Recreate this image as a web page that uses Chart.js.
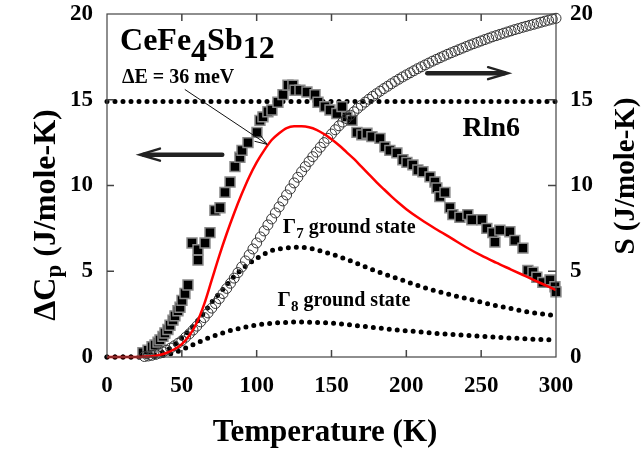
<!DOCTYPE html>
<html>
<head>
<meta charset="utf-8">
<script src="https://cdn.jsdelivr.net/npm/chart.js@4.4.0/dist/chart.umd.min.js"></script>
<style>
  body { margin: 0; background: #fff; }
</style>
</head>
<body>
<canvas id="myChart" width="642" height="455"></canvas>
<script>
// ---- data ----
// measured delta Cp (black squares), J/mole-K
const cpT = [24.0, 27.4, 30.1, 32.1, 34.1, 35.4, 37.4, 38.7, 40.7, 42.1, 44.1, 45.4, 47.4, 48.8, 50.1, 52.1, 54.1,
  56.8, 60.8, 60.8, 65.5, 68.8, 72.1, 75.5, 78.8, 82.2, 85.5, 88.8, 90.2, 94.2, 100.2, 102.2, 104.2, 107.5, 110.2,
  114.2, 117.6, 120.9, 124.2, 125.6, 128.9, 133.6, 139.0, 141.0, 145.6, 149.0, 153.6, 157.0, 160.3, 163.7, 167.0,
  170.3, 173.7, 177.0, 182.4, 185.7, 189.0, 193.7, 197.7, 200.4, 204.4, 207.7, 211.1, 215.8, 219.1, 220.4, 222.4,
  225.8, 229.1, 231.1, 235.8, 241.1, 243.8, 250.5, 253.8, 257.8, 259.2, 262.5, 269.2, 272.5, 277.9, 281.2, 284.6,
  287.2, 291.2, 296.0, 299.3, 300.0];
const cpVal = [0.25, 0.4, 0.6, 0.7, 0.87, 1.0, 1.2, 1.4, 1.6, 1.85, 2.15, 2.4, 2.7, 2.9, 3.3, 3.7, 4.2,
  6.65, 5.65, 6.25, 6.65, 7.25, 8.55, 8.7, 9.6, 10.2, 11.1, 11.65, 12.05, 12.5, 13.1, 13.8, 14.0, 14.3, 14.4,
  14.85, 15.3, 15.85, 15.85, 15.55, 15.55, 15.45, 15.3, 14.85, 14.6, 14.4, 14.2, 14.6, 14.0, 13.8, 13.1,
  12.95, 13.05, 12.85, 12.75, 12.25, 12.05, 11.9, 11.5, 11.35, 11.2, 10.9, 10.8, 10.5, 10.2, 9.85, 9.35,
  9.6, 8.7, 8.3, 8.15, 8.3, 8.0, 8.0, 7.5, 7.25, 6.7, 7.4, 7.3, 6.8, 6.35, 5.05, 4.95,
  4.65, 4.35, 4.5, 4.1, 3.8];

// magnetic entropy (open circles, right axis), J/mole-K
const sT = [25, 27.5, 30, 32.5, 35, 37.5, 40, 42.5, 45, 47.5, 50, 52.5, 55, 57.5, 60, 62.5, 65, 67.5, 70, 72.5,
  75, 77.5, 80, 82.5, 85, 87.5, 90, 92.5, 95, 97.5, 100, 102.5, 105, 107.5, 110, 112.5, 115, 117.5, 120, 122.5,
  125, 127.5, 130, 132.5, 135, 137.5, 140, 142.5, 145, 147.5, 150, 152.5, 155, 157.5, 160, 162.5, 165, 167.5, 170, 172.5,
  175, 177.5, 180, 182.5, 185, 187.5, 190, 192.5, 195, 197.5, 200, 202.5, 205, 207.5, 210, 212.5, 215, 217.5, 220, 222.5,
  225, 227.5, 230, 232.5, 235, 237.5, 240, 242.5, 245, 247.5, 250, 252.5, 255, 257.5, 260, 262.5, 265, 267.5, 270, 272.5,
  275, 277.5, 280, 282.5, 285, 287.5, 290, 292.5, 295, 297.5, 300];
const sVal = [0.03, 0.06, 0.1, 0.15, 0.22, 0.3, 0.4, 0.52, 0.65, 0.8, 0.95, 1.15, 1.35, 1.57, 1.8, 2.05, 2.3, 2.57, 2.85, 3.12,
  3.4, 3.7, 4.0, 4.3, 4.6, 4.92, 5.25, 5.6, 5.95, 6.3, 6.65, 7.0, 7.35, 7.7, 8.05, 8.4, 8.75, 9.1, 9.45, 9.8,
  10.15, 10.48, 10.8, 11.1, 11.4, 11.68, 11.95, 12.23, 12.5, 12.75, 13.0, 13.25, 13.48, 13.7, 13.9, 14.1, 14.3, 14.5, 14.68, 14.86,
  15.03, 15.2, 15.35, 15.5, 15.65, 15.79, 15.93, 16.07, 16.2, 16.33, 16.45, 16.57, 16.69, 16.81, 16.92, 17.03, 17.14, 17.25, 17.35, 17.45,
  17.55, 17.65, 17.74, 17.83, 17.92, 18.01, 18.1, 18.19, 18.27, 18.35, 18.43, 18.51, 18.59, 18.67, 18.74, 18.81, 18.88, 18.95, 19.02, 19.09,
  19.15, 19.22, 19.28, 19.34, 19.4, 19.46, 19.52, 19.58, 19.64, 19.7, 19.75];

// Schottky fit, dE = 36 meV (red line)
const fitT = [0, 10, 20, 25, 30, 35, 40, 45, 50, 55, 60, 65, 70, 75, 80, 85, 90, 95, 100, 105, 110, 115, 120, 125,
  130, 135, 140, 145, 150, 155, 160, 165, 170, 175, 180, 185, 190, 195, 200, 210, 220, 230, 240, 250, 260, 270, 280, 290, 300];
const fitVal = [0, 0, 0, 0.02, 0.05, 0.12, 0.25, 0.45, 0.75, 1.25, 2.0, 3.1, 4.5, 5.9, 7.2, 8.4, 9.5, 10.5, 11.35, 12.05, 12.65, 13.05, 13.35, 13.45,
  13.45, 13.4, 13.25, 13.0, 12.7, 12.35, 11.95, 11.55, 11.1, 10.65, 10.2, 9.78, 9.37, 8.98, 8.62, 8.0, 7.45, 6.93, 6.4, 5.92, 5.5, 5.1, 4.7, 4.3, 3.9];

// Gamma7 ground state (dotted)
const g7T = [0, 10, 20, 30, 35, 40, 45, 50, 55, 60, 65, 70, 75, 80, 85, 90, 95, 100, 105, 110, 115, 120, 125, 130, 135, 140,
  150, 160, 170, 180, 190, 200, 210, 220, 230, 240, 250, 260, 270, 280, 290, 300];
const g7Val = [0, 0, 0, 0.05, 0.2, 0.4, 0.7, 1.1, 1.55, 2.05, 2.6, 3.2, 3.7, 4.2, 4.7, 5.1, 5.45, 5.75, 6.0, 6.2, 6.3, 6.35, 6.4, 6.4, 6.35, 6.25,
  6.0, 5.7, 5.35, 5.0, 4.7, 4.4, 4.1, 3.85, 3.62, 3.42, 3.2, 3.0, 2.82, 2.65, 2.52, 2.42];

// Gamma8 ground state (dotted)
const g8T = [0, 10, 20, 30, 35, 40, 45, 50, 55, 60, 70, 80, 90, 100, 110, 120, 130, 140, 150, 160, 170, 180, 190, 200,
  220, 240, 260, 280, 300];
const g8Val = [0, 0, 0, 0.02, 0.06, 0.13, 0.25, 0.42, 0.62, 0.82, 1.18, 1.48, 1.7, 1.87, 1.97, 2.02, 2.04, 2.02, 1.98, 1.9, 1.8, 1.7, 1.61, 1.53,
  1.38, 1.26, 1.15, 1.06, 0.98];

// R ln6 limit
const rlnT = [0, 300];
const rlnVal = [14.9, 14.9];

const xTicks = [0, 50, 100, 150, 200, 250, 300];
const yTicks = [0, 5, 10, 15, 20];

const FONT = "'Liberation Serif', 'Times New Roman', serif";

function pts(xs, ys) {
  return xs.map((x, i) => ({ x: x, y: ys[i] }));
}

// draw a row of text pieces, each {t, size, dy}
function runs(ctx, x, y, parts) {
  parts.forEach(p => {
    ctx.font = 'bold ' + p.size + 'px ' + FONT;
    ctx.fillText(p.t, x, y + (p.dy || 0));
    x += ctx.measureText(p.t).width;
  });
}
function runsWidth(ctx, parts) {
  let w = 0;
  parts.forEach(p => {
    ctx.font = 'bold ' + p.size + 'px ' + FONT;
    w += ctx.measureText(p.t).width;
  });
  return w;
}

function bigArrow(ctx, x1, x2, y) {
  // shaft from x1 to x2, head at x2
  const dir = x2 > x1 ? 1 : -1;
  ctx.lineWidth = 4.5;
  ctx.lineCap = 'round';
  ctx.beginPath();
  ctx.moveTo(x1, y);
  ctx.lineTo(x2 - dir * 4, y);
  ctx.stroke();
  ctx.lineWidth = 2.5;
  ctx.lineJoin = 'miter';
  ctx.beginPath();
  ctx.moveTo(x2 - dir * 20, y - 6);
  ctx.lineTo(x2, y);
  ctx.lineTo(x2 - dir * 20, y + 6);
  ctx.stroke();
}

const decor = {
  id: 'decor',
  afterDatasetsDraw(chart) {
    const ctx = chart.ctx;
    const a = chart.chartArea;
    const sx = chart.scales.x, sy = chart.scales.y;
    const px = t => sx.getPixelForValue(t);
    const py = v => sy.getPixelForValue(v);
    ctx.save();

    // frame
    ctx.strokeStyle = '#444';
    ctx.lineWidth = 1.2;
    ctx.strokeRect(a.left, a.top, a.right - a.left, a.bottom - a.top);

    // inward ticks
    ctx.lineWidth = 1.5;
    ctx.beginPath();
    xTicks.slice(1, -1).forEach(t => {
      ctx.moveTo(px(t), a.bottom); ctx.lineTo(px(t), a.bottom - 7);
      ctx.moveTo(px(t), a.top); ctx.lineTo(px(t), a.top + 7);
    });
    yTicks.slice(1, -1).forEach(v => {
      ctx.moveTo(a.left, py(v)); ctx.lineTo(a.left + 7, py(v));
      ctx.moveTo(a.right, py(v)); ctx.lineTo(a.right - 8, py(v));
    });
    ctx.stroke();

    ctx.fillStyle = '#000';
    ctx.strokeStyle = '#111';
    ctx.textBaseline = 'alphabetic';
    ctx.textAlign = 'left';

    // compound label
    runs(ctx, px(8.7), py(17.9), [
      { t: 'CeFe', size: 32 }, { t: '4', size: 32, dy: 11 }, { t: 'Sb', size: 32 }, { t: '12', size: 32, dy: 8 }
    ]);
    runs(ctx, px(10), py(16.0), [{ t: '\u0394E = 36 meV', size: 20 }]);

    // pointer to the fit curve
    const p0 = [px(52), py(15.6)], p1 = [px(107), py(12.4)];
    ctx.lineWidth = 1;
    ctx.beginPath();
    ctx.moveTo(p0[0], p0[1]);
    ctx.lineTo(p1[0], p1[1]);
    const ang = Math.atan2(p1[1] - p0[1], p1[0] - p0[0]);
    [0.35, -0.35].forEach(d => {
      ctx.moveTo(p1[0], p1[1]);
      ctx.lineTo(p1[0] - 13 * Math.cos(ang + d), p1[1] - 13 * Math.sin(ang + d));
    });
    ctx.stroke();

    runs(ctx, px(237.5), py(12.9), [{ t: 'Rln6', size: 28 }]);
    runs(ctx, px(117.5), py(7.25), [
      { t: '\u0393', size: 21 }, { t: '7', size: 15, dy: 5 }, { t: ' ground state', size: 20 }
    ]);
    runs(ctx, px(114), py(3.0), [
      { t: '\u0393', size: 21 }, { t: '8', size: 15, dy: 5 }, { t: ' ground state', size: 20 }
    ]);

    // axis arrows
    ctx.strokeStyle = '#222';
    bigArrow(ctx, px(77), px(22), py(11.8));
    bigArrow(ctx, px(214), px(268), py(16.55));

    // axis titles
    ctx.fillStyle = '#000';
    const xt = [{ t: 'Temperature (K)', size: 31 }];
    runs(ctx, 325 - runsWidth(ctx, xt) / 2, 441, xt);

    const lt = [{ t: '\u0394C', size: 32 }, { t: 'p', size: 23, dy: 6 }, { t: ' (J/mole-K)', size: 32 }];
    ctx.save();
    ctx.translate(55, 215);
    ctx.rotate(-Math.PI / 2);
    runs(ctx, -runsWidth(ctx, lt) / 2, 0, lt);
    ctx.restore();

    const rt = [{ t: 'S (J/mole-K)', size: 29 }];
    ctx.save();
    ctx.translate(634, 176);
    ctx.rotate(-Math.PI / 2);
    runs(ctx, -runsWidth(ctx, rt) / 2, 0, rt);
    ctx.restore();

    ctx.restore();
  }
};

const tickFont = { family: FONT, size: 23, weight: 'bold' };

const dotted = {
  showLine: true, pointRadius: 0, borderColor: '#000', borderWidth: 5,
  borderDash: [0, 8], borderCapStyle: 'round', cubicInterpolationMode: 'monotone', clip: false
};

// fixed axis boxes so the plot area sits where the original one does
function fixY(width) {
  return s => { s.width = width; s.paddingTop = 0; s.paddingBottom = 0; };
}

var ctx = document.getElementById('myChart').getContext('2d');
var chart = new Chart(ctx, {
  type: 'scatter',
  data: {
    datasets: [
      {
        label: 'fit', data: pts(fitT, fitVal), showLine: true, pointRadius: 0,
        borderColor: '#ff0000', borderWidth: 2.5, cubicInterpolationMode: 'monotone', order: 1, clip: false
      },
      {
        label: 'S', data: pts(sT, sVal), yAxisID: 'y2', pointStyle: 'circle', pointRadius: 5,
        backgroundColor: 'rgba(0,0,0,0)', borderColor: '#333', borderWidth: 1, order: 2, clip: false
      },
      {
        label: 'dCp', data: pts(cpT, cpVal), pointStyle: 'rect', pointRadius: 7,
        backgroundColor: '#000', borderColor: '#8a8a8a', borderWidth: 1.5, order: 3, clip: false
      },
      Object.assign({ label: 'Rln6', data: pts(rlnT, rlnVal), order: 4 }, dotted),
      Object.assign({ label: 'G7', data: pts(g7T, g7Val), order: 5 }, dotted),
      Object.assign({ label: 'G8', data: pts(g8T, g8Val), order: 6 }, dotted)
    ]
  },
  options: {
    responsive: false,
    animation: false,
    layout: { padding: { top: 14, left: 0, right: 0, bottom: 0 } },
    plugins: { legend: { display: false }, tooltip: { enabled: false } },
    scales: {
      x: {
        type: 'linear', position: 'bottom', min: 0, max: 300,
        grid: { display: false, drawTicks: false }, border: { display: false },
        ticks: { stepSize: 50, font: tickFont, color: '#000', padding: 15, maxRotation: 0 },
        afterFit: s => { s.height = 98; s.paddingLeft = 0; s.paddingRight = 0; }
      },
      y: {
        position: 'left', min: 0, max: 20,
        grid: { display: false, drawTicks: false }, border: { display: false },
        ticks: { stepSize: 5, font: tickFont, color: '#000', padding: 14 },
        afterFit: fixY(107)
      },
      y2: {
        position: 'right', min: 0, max: 20,
        grid: { display: false, drawTicks: false }, border: { display: false },
        ticks: { stepSize: 5, font: tickFont, color: '#000', padding: 14 },
        afterFit: fixY(86)
      }
    }
  },
  plugins: [decor]
});
</script>
</body>
</html>
